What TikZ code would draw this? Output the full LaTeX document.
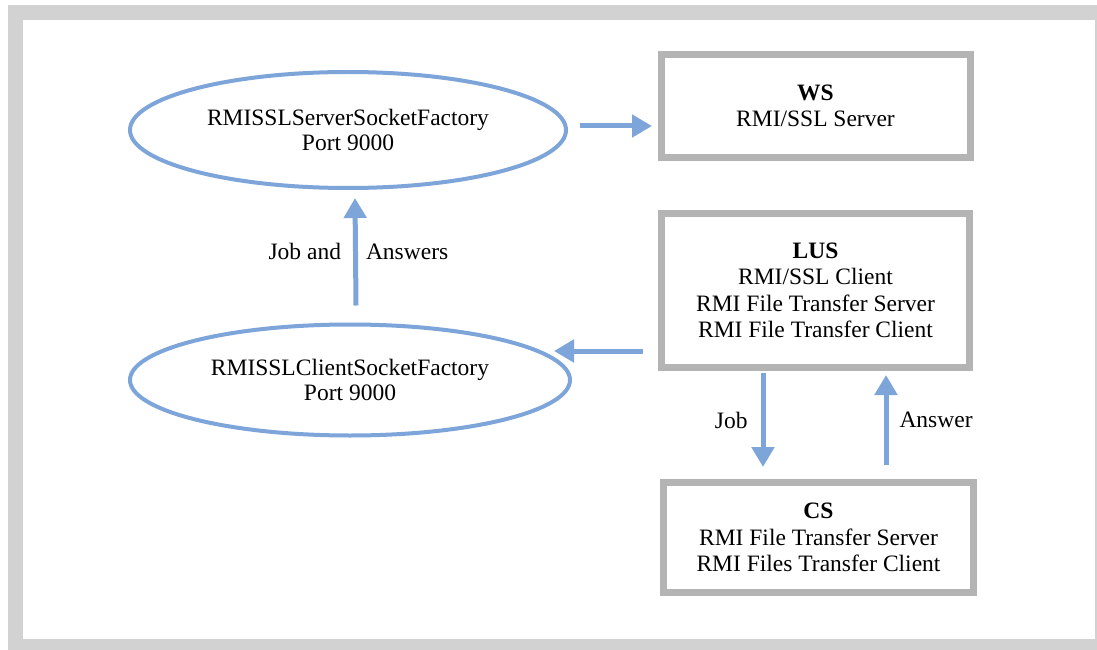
\documentclass[tikz,border=0pt]{standalone}
\usepackage{fontspec}
\setmainfont{Liberation Serif}
\usepackage{tikz}
\usetikzlibrary{arrows.meta}
\usetikzlibrary{shapes.geometric}
\usetikzlibrary{positioning}
\definecolor{flowblue}{RGB}{125,165,218}
\definecolor{boxgray}{RGB}{180,180,180}
\definecolor{framegray}{RGB}{210,210,210}
\tikzset{factory/.style = {draw = flowblue, ellipse, line width = 4pt, inner sep = 0,
    align = center, font = \fontsize{23.5}{25}\selectfont}}
\tikzset{hostbox/.style = {draw = boxgray, rectangle, line width = 7pt, inner sep = 0,
    align = center, font = \fontsize{23.5}{26.5}\selectfont}}
\tikzset{flow/.style = {draw = flowblue, line width = 5pt,
    -{Triangle[length = 20pt, width = 22pt]}}}
\tikzset{flowlabel/.style = {font = \fontsize{23.5}{25}\selectfont, inner sep = 0}}

\begin{document}
\begin{tikzpicture}[x = 1pt, y = -1pt]
      \useasboundingbox (0, 0) rectangle (1097, 650);
      \fill [framegray] (8, 5) rectangle (1097, 650);
      \fill [white] (23, 20) rectangle (1095, 639);

      \node [factory, minimum width = 436, minimum height = 116] (srvfac) at (348, 130)
        {RMISSLServerSocketFactory\\Port 9000};
      \node [factory, minimum width = 440, minimum height = 111] (clifac) at (350, 380)
        {RMISSLClientSocketFactory\\Port 9000};

      \node [hostbox, minimum width = 309, minimum height = 102] (ws) at (815.5, 106)
        {\textbf{WS}\\RMI/SSL Server};
      \node [hostbox, minimum width = 308, minimum height = 154] (lus) at (815.5, 290.5)
        {\textbf{LUS}\\RMI/SSL Client\\RMI File Transfer Server\\RMI File Transfer Client};
      \node [hostbox, minimum width = 310, minimum height = 110] (cs) at (818.5, 537.5)
        {\textbf{CS}\\RMI File Transfer Server\\RMI Files Transfer Client};

      \draw [flow] ([shift = {(12, -4)}] srvfac.east) -- ([shift = {(-5.5, 20)}] ws.west);
      \draw [flow] ([shift = {(6, -17)}] clifac.north) -- ([shift = {(7, 8)}] srvfac.south)
        node [flowlabel, midway, left = 12pt] {Job and}
        node [flowlabel, midway, right = 8pt] {Answers};
      \draw [flow] ([shift = {(-15, 60.5)}] lus.west) -- ([shift = {(-18, -29)}] clifac.east);
      \draw [flow] ([shift = {(-52.5, 2)}] lus.south) -- ([shift = {(-55.5, -12)}] cs.north)
        node [flowlabel, midway, left = 13pt] {Job};
      \draw [flow] ([shift = {(67.5, -14)}] cs.north) -- ([shift = {(70.5, 4)}] lus.south)
        node [flowlabel, midway, right = 11pt] {Answer};
    \end{tikzpicture}
\end{document}
